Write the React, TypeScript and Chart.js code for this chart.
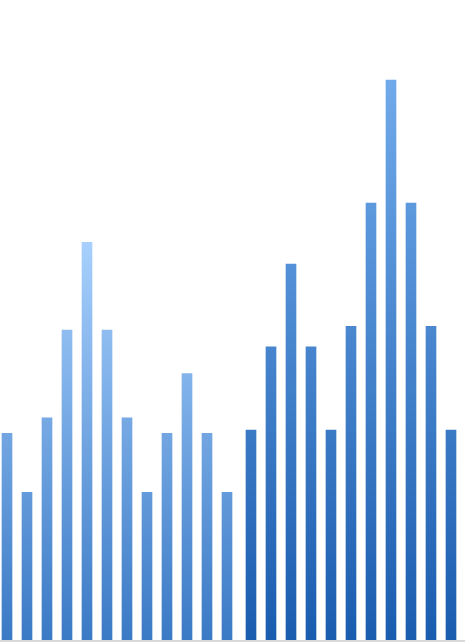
import React, { useEffect, useRef } from "react";
import { Chart, registerables } from "chart.js";

Chart.register(...registerables);

// Category index positions along the x axis (23 slots)
const group1Values = [32.4, 23.2, 34.8, 48.5, 62.2, 48.5, 34.8, 23.2, 32.4, 41.7, 32.4, 23.2];
const group2Values = [32.9, 45.9, 58.8, 45.9, 32.9, 49.1, 68.3, 87.5, 68.3, 49.1, 32.9];
const group2Start = group1Values.length;

const group1Colors = ["#a7d0fd", "#3a79c5"];
const group2Colors = ["#70aaea", "#1a5cae"];

function makeGradient(chart: Chart, values: number[], colors: string[]) {
  const area = chart.chartArea;
  const y = chart.scales.y;
  if (!area || !y) return colors[1];
  const top = y.getPixelForValue(Math.max(...values));
  const bottom = y.getPixelForValue(0);
  const g = chart.ctx.createLinearGradient(0, top, 0, bottom);
  g.addColorStop(0, colors[0]);
  g.addColorStop(1, colors[1]);
  return g;
}

export default function App() {
  const ref = useRef<HTMLCanvasElement | null>(null);

  useEffect(() => {
    if (!ref.current) return;
    const chart = new Chart(ref.current, {
      type: "bar",
      data: {
        datasets: [
          {
            data: group1Values.map((v, i) => ({ x: i, y: v })),
            backgroundColor: (ctx: any) => makeGradient(ctx.chart, group1Values, group1Colors),
            borderWidth: 0,
            categoryPercentage: 0.4,
            barPercentage: 2.5,
          },
          {
            data: group2Values.map((v, i) => ({ x: group2Start + i, y: v })),
            backgroundColor: (ctx: any) => makeGradient(ctx.chart, group2Values, group2Colors),
            borderWidth: 0,
            categoryPercentage: 0.4,
            barPercentage: 2.5,
          },
        ],
      },
      options: {
        animation: false,
        responsive: false,
        maintainAspectRatio: false,
        layout: { padding: { left: 0, right: 0, top: 0, bottom: 1 } },
        plugins: { legend: { display: false }, tooltip: { enabled: false } },
        events: [],
        scales: {
          x: {
            type: "linear",
            min: -0.45,
            max: 22.8,
            offset: false,
            display: true,
            grid: { display: false, drawTicks: false, offset: false },
            ticks: { display: false, stepSize: 1, includeBounds: false },
            border: { display: true, color: "#d9d9d9", width: 2, z: 1 },
          },
          y: {
            display: false,
            min: 0,
            max: 100,
          },
        },
      },
    } as any);
    return () => chart.destroy();
  }, []);

  return (
    <div style={{ position: "absolute", left: 0, top: 0, width: 465, height: 642 }}>
      <canvas ref={ref} width={465} height={642} style={{ display: "block", width: 465, height: 642 }} />
    </div>
  );
}
